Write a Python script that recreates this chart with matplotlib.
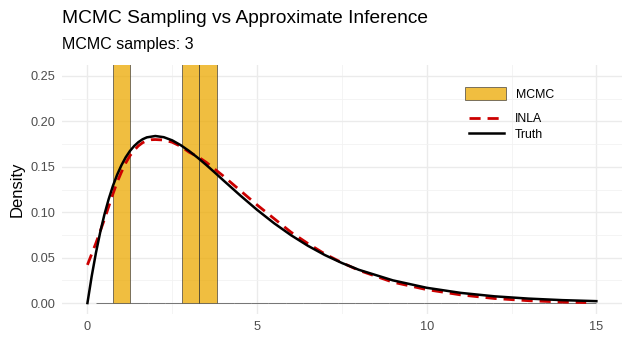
import numpy as np
import matplotlib.pyplot as plt
from matplotlib.patches import Patch
from matplotlib.lines import Line2D
from matplotlib.ticker import MultipleLocator

plt.rcParams['font.family'] = ['Liberation Sans', 'DejaVu Sans']

# MCMC draws (3 samples) and histogram breaks
mcmc_samples = [1.0, 3.0, 3.5]
bin_edges = np.linspace(0.25, 15, 30)

# true posterior density
truth_x = [0, 0.125, 0.25, 0.375, 0.5, 0.625, 0.75, 0.875, 1, 1.125, 1.25,
           1.375, 1.5, 1.625, 1.75, 2, 2.25, 2.5, 2.75, 3, 3.25, 3.5, 3.75,
           4, 4.5, 5, 5.5, 6, 6.5, 7, 7.5, 8, 9, 10, 11, 12, 13, 14, 15]
truth_y = [0.0, 0.0294, 0.0552, 0.0777, 0.0974, 0.1143, 0.1289, 0.1412, 0.1516,
           0.1603, 0.1673, 0.1728, 0.1771, 0.1803, 0.1824, 0.1839, 0.1826,
           0.1791, 0.1738, 0.1673, 0.1600, 0.1521, 0.1438, 0.1353, 0.1186,
           0.1026, 0.0879, 0.0747, 0.0630, 0.0528, 0.0441, 0.0366, 0.0250,
           0.0168, 0.0112, 0.0074, 0.0049, 0.0032, 0.0021]

# INLA approximation
inla_x = [0, 0.125, 0.25, 0.375, 0.5, 0.625, 0.75, 0.875, 1, 1.125, 1.25,
          1.375, 1.5, 1.625, 1.75, 1.875, 2, 2.25, 2.5, 2.75, 3, 3.25, 3.5,
          3.75, 4, 4.5, 5, 5.5, 6, 6.5, 7, 7.5, 8, 9, 10, 11, 12, 13, 14, 14.7]
inla_y = [0.042, 0.054, 0.066, 0.079, 0.092, 0.106, 0.120, 0.133, 0.144,
          0.154, 0.162, 0.168, 0.173, 0.1765, 0.1787, 0.1798, 0.1800, 0.1795,
          0.1770, 0.1725, 0.1660, 0.1612, 0.1550, 0.1475, 0.1400, 0.1240,
          0.1080, 0.0930, 0.0780, 0.0655, 0.0540, 0.0445, 0.0360, 0.0230,
          0.0148, 0.0090, 0.0050, 0.0026, 0.0011, 0.0005]

fig = plt.figure(figsize=(6.3, 3.5), dpi=100)
ax = fig.add_axes([0.0984, 0.1017, 0.8886, 0.7137])

ax.hist(mcmc_samples, bins=bin_edges, density=True, color='#EBA900', alpha=0.75,
        edgecolor='#333333', linewidth=0.6, zorder=2)
ax.plot(inla_x, inla_y, color='#CC0000', linestyle=(0, (4, 2.5)), linewidth=2,
        zorder=3)
ax.plot(truth_x, truth_y, color='black', linewidth=1.8, zorder=4)

ax.set_xlim(-0.75, 15.75)
ax.set_ylim(-0.0125, 0.2625)
ax.xaxis.set_major_locator(MultipleLocator(5))
ax.xaxis.set_minor_locator(MultipleLocator(2.5))
ax.yaxis.set_major_locator(MultipleLocator(0.05))
ax.yaxis.set_minor_locator(MultipleLocator(0.025))
ax.yaxis.set_major_formatter(plt.FuncFormatter(lambda v, p: f'{v:.2f}'))

ax.grid(which='major', color='#EBEBEB', linewidth=1.0, zorder=0)
ax.grid(which='minor', color='#F2F2F2', linewidth=0.6, zorder=0)
ax.set_axisbelow(True)
for s in ax.spines.values():
    s.set_visible(False)
ax.tick_params(which='both', length=0, labelsize=9.2, labelcolor='#4D4D4D', pad=5)

ax.set_ylabel('Density', fontsize=12, labelpad=4)

fig.text(0.0984, 0.935, 'MCMC Sampling vs Approximate Inference', fontsize=13.8,
         ha='left', va='baseline')
fig.text(0.0984, 0.859, 'MCMC samples: 3', fontsize=11.5, ha='left', va='baseline')

# legend: fill key on its own, line keys packed a bit tighter below
fill_key = [Patch(facecolor='#EBA900', alpha=0.75, edgecolor='#333333', linewidth=0.6)]
leg1 = ax.legend(fill_key, ['MCMC'], loc='upper left',
                 bbox_to_anchor=(0.70, 0.955), frameon=False, fontsize=8.8,
                 handlelength=3.4, handleheight=1.3, handletextpad=0.75)
ax.add_artist(leg1)
line_keys = [Line2D([], [], color='#CC0000', linestyle=(0, (4, 2.5)), linewidth=2),
             Line2D([], [], color='black', linewidth=1.8)]
ax.legend(line_keys, ['INLA', 'Truth'], loc='upper left',
          bbox_to_anchor=(0.708, 0.85), frameon=False, fontsize=8.8,
          handlelength=2.8, labelspacing=0.3, handletextpad=0.95)

fig.savefig('out.png', dpi=100)
